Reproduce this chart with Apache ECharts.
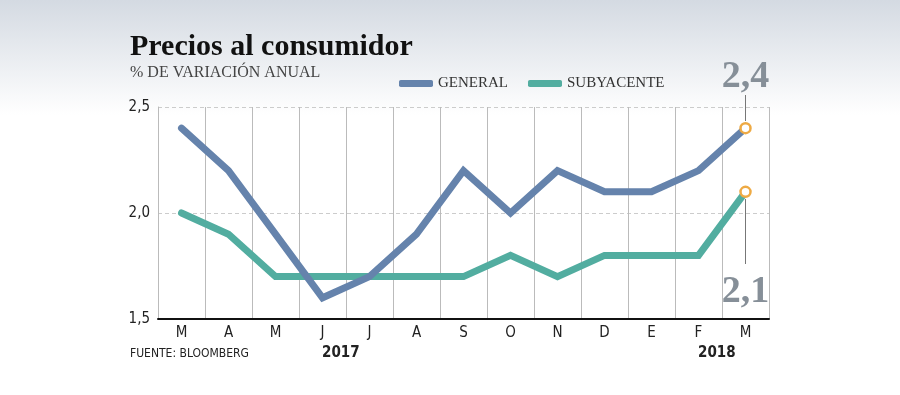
<!DOCTYPE html>
<html><head><meta charset="utf-8">
<script src="https://cdn.jsdelivr.net/npm/echarts@6/dist/echarts.min.js"></script>
<style>html,body{margin:0;padding:0;background:#fff}#c{width:900px;height:395px}</style>
</head><body><div id="c"></div>
<script>
var months = ['M','A','M','J','J','A','S','O','N','D','E','F','M'];
var general = [2.4, 2.2, 1.9, 1.6, 1.7, 1.9, 2.2, 2.0, 2.2, 2.1, 2.1, 2.2, 2.4];
var subyacente = [2.0, 1.9, 1.7, 1.7, 1.7, 1.7, 1.7, 1.8, 1.7, 1.8, 1.8, 1.8, 2.1];
var yTicks = {min: 1.5, max: 2.5, interval: 0.5};
var years = ['2017', '2018'];

var condensed = "'Liberation Sans Narrow','DejaVu Sans Condensed','Roboto',sans-serif";
var serif = "'Liberation Serif','DejaVu Serif',serif";
var last = months.length - 1;

function lastOnly(arr){ return arr.map(function(v,i){ return i === last ? v : '-'; }); }
function fmt(v){ return String(v.toFixed(1)).replace('.', ','); }

var chart = echarts.init(document.getElementById('c'), null, {renderer:'canvas'});
chart.setOption({
  backgroundColor: '#ffffff',
  animation: false,
  graphic: [
    {type:'rect', z:-10, silent:true, shape:{x:0,y:0,width:900,height:115},
     style:{fill:new echarts.graphic.LinearGradient(0,0,0,1,[{offset:0,color:'#d4dae2'},{offset:1,color:'#ffffff'}])}},
    {type:'text', left:130, top:32, style:{text:'Precios al consumidor', font:"bold 30px " + serif, fill:'#111'}},
    {type:'text', left:130, top:65, style:{text:'% DE VARIACIÓN ANUAL', font:"16px " + serif, fill:'#444'}},
    {type:'text', left:130, top:348, style:{text:'FUENTE: BLOOMBERG', font:"12px " + condensed, fill:'#222'}},
    {type:'text', left:322, top:346, style:{text:years[0], font:"bold 15px " + condensed, fill:'#222'}},
    {type:'text', left:698, top:346, style:{text:years[1], font:"bold 15px " + condensed, fill:'#222'}}
  ],
  legend: {
    top: 71, left: 394,
    itemWidth: 34, itemHeight: 7, itemGap: 20,
    icon: 'roundRect',
    textStyle: {fontFamily: serif, fontSize: 15, color:'#333'},
    data: ['GENERAL', 'SUBYACENTE']
  },
  grid: {left: 158, right: 131, top: 107, bottom: 76},
  xAxis: {
    type: 'category', data: months, boundaryGap: true,
    axisLine: {show:true, lineStyle:{color:'#111', width:2}},
    axisTick: {show:false},
    axisLabel: {fontFamily: condensed, fontSize: 15, color:'#222', margin: 7},
    splitLine: {show:true, lineStyle:{color:'#bbbbbb', width:1}}
  },
  yAxis: {
    type: 'value', min: yTicks.min, max: yTicks.max, interval: yTicks.interval,
    axisLine: {show:true, lineStyle:{color:'#bbbbbb', width:1}},
    axisTick: {show:false},
    axisLabel: {fontFamily: condensed, fontSize: 15, color:'#222', margin: 8, formatter: function(v){ return fmt(v); }},
    splitLine: {show:true, lineStyle:{color:'#cccccc', width:1, type:[4,3]}}
  },
  series: [
    {name:'GENERAL', type:'line', data: general, symbol:'none', z:3,
     itemStyle:{color:'#6583ac'},
     lineStyle:{color:'#6583ac', width:7, cap:'round', join:'miter'}},
    {name:'SUBYACENTE', type:'line', data: subyacente, symbol:'none', z:2,
     itemStyle:{color:'#52ada0'},
     lineStyle:{color:'#52ada0', width:7, cap:'round', join:'miter'}},
    {name:'g-last', type:'scatter', data: lastOnly(general), symbol:'circle', symbolSize:10, z:5,
     itemStyle:{color:'#ffffff', borderColor:'#eeaa44', borderWidth:2.5, opacity:1},
     label:{show:true, position:'top', distance:1,
       formatter:function(p){ return '{v|' + fmt(p.value) + '}\n{l|}'; },
       rich:{v:{fontFamily:serif, fontWeight:'bold', fontSize:38, lineHeight:36, color:'#868f98', align:'center'},
             l:{width:1, height:26, backgroundColor:'#777777', align:'center'}}}},
    {name:'s-last', type:'scatter', data: lastOnly(subyacente), symbol:'circle', symbolSize:10, z:5,
     itemStyle:{color:'#ffffff', borderColor:'#eeaa44', borderWidth:2.5, opacity:1},
     label:{show:true, position:'bottom', distance:1,
       formatter:function(p){ return '{l|}\n{v|' + fmt(p.value) + '}'; },
       rich:{v:{fontFamily:serif, fontWeight:'bold', fontSize:38, lineHeight:56, color:'#868f98', align:'center'},
             l:{width:1, height:65, backgroundColor:'#777777', align:'center'}}}}
  ]
});
</script></body></html>
